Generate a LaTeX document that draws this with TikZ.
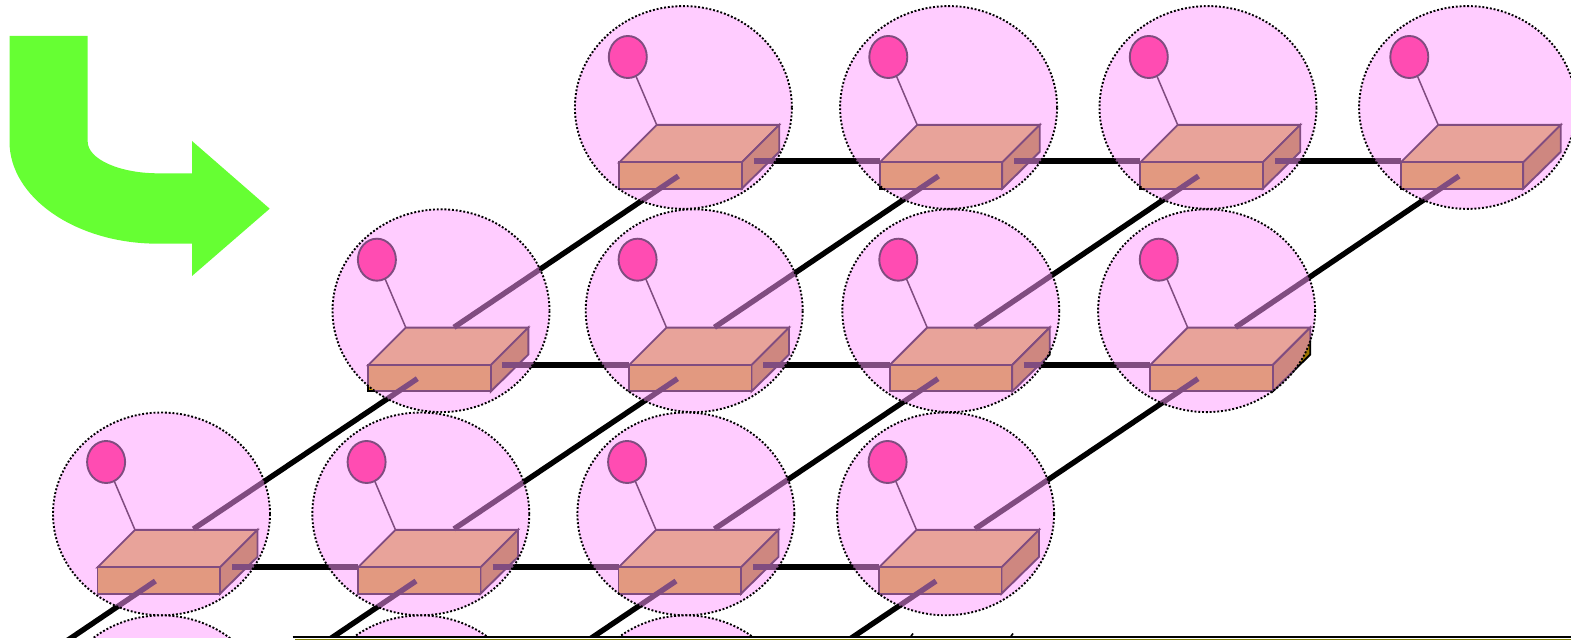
\documentclass[tikz,border=0pt]{standalone}
\usetikzlibrary{shapes.geometric}
\definecolor{overlay}{HTML}{FF99FF}
\definecolor{boxfront}{HTML}{C69900}
\definecolor{boxtop}{HTML}{D1AF35}
\definecolor{boxside}{HTML}{9D7500}
\definecolor{ballred}{HTML}{FF0066}
\definecolor{arrowgreen}{HTML}{66FF33}
\definecolor{planeolive}{HTML}{808000}
\tikzset{
  x=0.5pt,y=-0.5pt,
  link/.style={line width=2.7pt,black},
  edgeline/.style={draw=black,line width=0.95pt,line join=miter},
  stem/.style={black,line width=0.75pt},
  ball/.style={ellipse,draw=black,fill=ballred,line width=0.95pt,minimum width=19pt,minimum height=21pt,inner sep=0pt,outer sep=0pt},
  halo/.style={ellipse,draw=black,fill=overlay,fill opacity=0.5,line width=0.95pt,dash pattern=on 0.95pt off 0.95pt,minimum width=108.5pt,minimum height=101.4pt,inner sep=0pt,outer sep=0pt},
}
% #1 name, #2 x, #3 y of the top-left front corner of the box
\newcommand{\routerbox}[3]{%
  \coordinate (#1a) at (#2,#3+0.4);
  \coordinate (#1b) at (#2+122.5,#3+0.4);
  \coordinate (#1c) at (#2+122.5,#3+26.7);
  \coordinate (#1d) at (#2,#3+26.7);
  \coordinate (#1e) at (#2+37.5,#3-37.1);
  \coordinate (#1f) at (#2+160,#3-37.1);
  \coordinate (#1g) at (#2+160,#3-10.1);
  \filldraw[edgeline,fill=boxtop] (#1a) -- (#1e) -- (#1f) -- (#1b) -- cycle;
  \filldraw[edgeline,fill=boxside] (#1b) -- (#1f) -- (#1g) -- (#1c) -- cycle;
  \filldraw[edgeline,fill=boxfront] (#1a) -- (#1b) -- (#1c) -- (#1d) -- cycle;
  \node[ball] (#1ball) at (#2+8.6,#3-105) {};
  \draw[stem] (#1ball) -- (#1e);
}
\begin{document}
\begin{tikzpicture}
\useasboundingbox (0,0) rectangle (1571,640);
\clip (0,0) rectangle (1571,640);
% arrow
\fill[arrowgreen] (9.5,36) -- (87.7,36) -- (87.7,141.7)
  .. controls (87.7,159) and (119.3,173.3) .. (158,173.3)
  -- (192,173.3) -- (192,141) -- (269.7,208.7) -- (192,276) -- (192,243.7) -- (158,243.7)
  .. controls (76.3,243.7) and (9.5,197.8) .. (9.5,141.7) -- cycle;
% boxes
\routerbox{ra}{619.2}{162}
\routerbox{rb}{879.7}{162}
\routerbox{rc}{1140.2}{162}
\routerbox{rd}{1400.7}{162}
\routerbox{re}{368.3}{364.7}
\routerbox{rf}{629}{364.7}
\routerbox{rg}{889.7}{364.7}
\routerbox{rh}{1150.2}{364.7}
\routerbox{ri}{97.5}{567}
\routerbox{rj}{358}{567}
\routerbox{rk}{618.5}{567}
\routerbox{rl}{879}{567}
% link ends
\coordinate (ha1) at (753.5,161); \coordinate (ha2) at (rba|-ha1);
\coordinate (hb1) at (1014,161);  \coordinate (hb2) at (rca|-hb1);
\coordinate (hc1) at (1274.5,161);\coordinate (hc2) at (rda|-hc1);
\coordinate (he1) at (502.3,365); \coordinate (he2) at (rfa|-he1);
\coordinate (hf1) at (763,365);   \coordinate (hf2) at (rga|-hf1);
\coordinate (hg1) at (1023.5,365);\coordinate (hg2) at (rha|-hg1);
\coordinate (hi1) at (232,567);   \coordinate (hi2) at (rja|-hi1);
\coordinate (hj1) at (492.5,567); \coordinate (hj2) at (rka|-hj1);
\coordinate (hk1) at (753,567);   \coordinate (hk2) at (rla|-hk1);
\draw[link] (ha1) -- (ha2);
\draw[link] (hb1) -- (hb2);
\draw[link] (hc1) -- (hc2);
\draw[link] (he1) -- (he2);
\draw[link] (hf1) -- (hf2);
\draw[link] (hg1) -- (hg2);
\draw[link] (hi1) -- (hi2);
\draw[link] (hj1) -- (hj2);
\draw[link] (hk1) -- (hk2);
\coordinate (da1) at (678.4,176);  \coordinate (da2) at (454,327.3);
\coordinate (db1) at (938.5,176);  \coordinate (db2) at (714.5,327.3);
\coordinate (dc1) at (1198.5,176); \coordinate (dc2) at (975,327.3);
\coordinate (dd1) at (1459,176);   \coordinate (dd2) at (1235.5,327.3);
\coordinate (de1) at (417.3,378.7); \coordinate (de2) at (193.4,529);
\coordinate (df1) at (677.5,378.7); \coordinate (df2) at (454,529);
\coordinate (dg1) at (938,378.7);   \coordinate (dg2) at (714.5,529);
\coordinate (dh1) at (1198,378.7);  \coordinate (dh2) at (975,529);
\coordinate (di1) at (155.4,581);  \coordinate (di2) at (-68,732);
\coordinate (dj1) at (416,581);    \coordinate (dj2) at (192,732);
\coordinate (dk1) at (676,581);    \coordinate (dk2) at (452,732);
\coordinate (dl1) at (936,581);    \coordinate (dl2) at (712,732);
\foreach \n in {a,b,c,d,e,f,g,h,i,j,k,l} \draw[link] (d\n1) -- (d\n2);
% overlays
\foreach \n/\cx/\cy in {oa/683.4/107.5,ob/948.6/107.5,oc/1208/107.5,od/1467.6/107.5,
  oe/441/310.7,of/694.2/310.7,og/950.8/310.7,oh/1206.6/310.7,
  oi/161.5/513.9,oj/420.8/513.9,ok/685.9/513.9,ol/945.6/513.9,
  om/161.5/716.8,on/420.8/716.8,oo/685.9/716.8}
  \node[halo] (\n) at (\cx,\cy) {};
% strip along the lower edge
\fill[white] (0,637.6) rectangle (1571,640);
\fill[planeolive] (295,638.6) rectangle (1571,640);
\coordinate (pa) at (292.7,637.2); \coordinate (pb) at (1571,637.2);
\draw[black,line width=0.9pt] (pa) -- (pb);
\coordinate (ta1) at (913,633.5); \coordinate (ta2) at (910.5,637);
\coordinate (tb1) at (1013,633.5); \coordinate (tb2) at (1010.5,637);
\draw[black,line width=0.8pt] (ta1) -- (ta2);
\draw[black,line width=0.8pt] (tb1) -- (tb2);
\end{tikzpicture}
\end{document}
